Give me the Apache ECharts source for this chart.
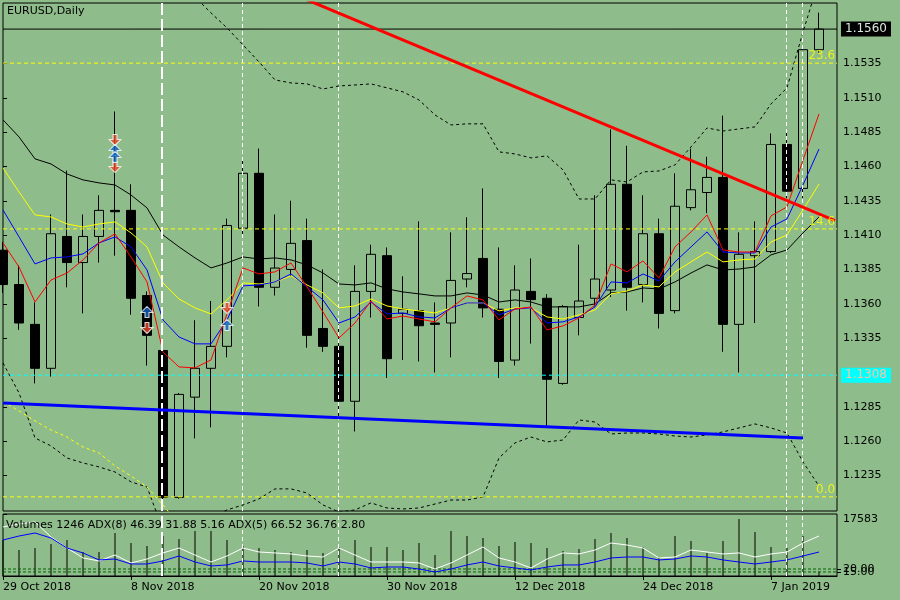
<!DOCTYPE html>
<html><head><meta charset="utf-8">
<script src="https://cdn.jsdelivr.net/npm/echarts@6/dist/echarts.min.js"></script>
<style>html,body{margin:0;padding:0;background:#8FBC8B;}#c{width:900px;height:600px;}</style>
</head><body><div id="c"></div>
<script>
// ---------- data ----------
const dates = ['29 Oct 2018','30 Oct 2018','31 Oct 2018','1 Nov 2018','2 Nov 2018','5 Nov 2018','6 Nov 2018','7 Nov 2018','8 Nov 2018','9 Nov 2018',
 '12 Nov 2018','13 Nov 2018','14 Nov 2018','15 Nov 2018','16 Nov 2018','19 Nov 2018','20 Nov 2018','21 Nov 2018','22 Nov 2018','23 Nov 2018',
 '26 Nov 2018','27 Nov 2018','28 Nov 2018','29 Nov 2018','30 Nov 2018','3 Dec 2018','4 Dec 2018','5 Dec 2018','6 Dec 2018','7 Dec 2018',
 '10 Dec 2018','11 Dec 2018','12 Dec 2018','13 Dec 2018','14 Dec 2018','17 Dec 2018','18 Dec 2018','19 Dec 2018','20 Dec 2018','21 Dec 2018',
 '24 Dec 2018','26 Dec 2018','27 Dec 2018','28 Dec 2018','31 Dec 2018','2 Jan 2019','3 Jan 2019','4 Jan 2019','7 Jan 2019','8 Jan 2019',
 '9 Jan 2019','10 Jan 2019'];
const tickBars = [0, 8, 16, 24, 32, 40, 48];
const priceTicks = [1.1535, 1.1510, 1.1485, 1.1460, 1.1435, 1.1410, 1.1385, 1.1360, 1.1335, 1.1285, 1.1260, 1.1235];
const volumeTicks = [17583];

const opens  = [1.1399,1.1374,1.1345,1.1313,1.1409,1.1390,1.1409,1.1428,1.1428,1.1366,1.1326,1.1219,1.1292,1.1313,1.1329,1.1415,1.1455,1.1372,1.1385,1.1406,
                1.1342,1.1329,1.1289,1.1369,1.1395,1.1353,1.1355,1.1346,1.1346,1.1378,1.1393,1.1356,1.1319,1.1369,1.1364,1.1302,1.1350,1.1364,1.1370,1.1447,
                1.1374,1.1411,1.1355,1.1430,1.1441,1.1452,1.1345,1.1395,1.1398,1.1476,1.1444,1.1545];
const highs  = [1.1405,1.1388,1.1361,1.1425,1.1457,1.1425,1.1439,1.1500,1.1447,1.1369,1.1331,1.1295,1.1348,1.1362,1.1422,1.1465,1.1473,1.1425,1.1435,1.1422,
                1.1385,1.1345,1.1388,1.1403,1.1401,1.1380,1.1420,1.1361,1.1412,1.1423,1.1444,1.1401,1.1388,1.1393,1.1367,1.1359,1.1403,1.1439,1.1487,1.1475,
                1.1439,1.1422,1.1455,1.1473,1.1467,1.1497,1.1412,1.1420,1.1484,1.1486,1.1547,1.1572];
const lows   = [1.1368,1.1341,1.1302,1.1307,1.1372,1.1353,1.1390,1.1395,1.1352,1.1315,1.1216,1.1218,1.1262,1.1270,1.1321,1.1410,1.1358,1.1366,1.1380,1.1328,
                1.1325,1.1278,1.1267,1.1350,1.1306,1.1319,1.1318,1.1310,1.1321,1.1372,1.1350,1.1306,1.1315,1.1331,1.1270,1.1301,1.1337,1.1358,1.1365,1.1355,
                1.1361,1.1342,1.1353,1.1428,1.1426,1.1325,1.1310,1.1346,1.1397,1.1437,1.1437,1.1543];
const closes = [1.1374,1.1346,1.1313,1.1411,1.1390,1.1409,1.1428,1.1427,1.1364,1.1337,1.1219,1.1294,1.1313,1.1329,1.1417,1.1455,1.1372,1.1386,1.1404,1.1337,
                1.1329,1.1289,1.1369,1.1396,1.1320,1.1356,1.1344,1.1345,1.1377,1.1382,1.1357,1.1318,1.1370,1.1363,1.1305,1.1358,1.1362,1.1378,1.1447,1.1372,
                1.1411,1.1353,1.1431,1.1443,1.1452,1.1345,1.1396,1.1398,1.1476,1.1442,1.1545,1.1560];

const maRed    = [1.14043,1.13868,1.13613,1.13773,1.13824,1.13919,1.14043,1.14109,1.13941,1.13759,1.13249,1.13140,1.13133,1.13191,1.13526,1.13861,1.13817,1.13832,1.13897,1.13723,
                  1.13540,1.13351,1.13460,1.13620,1.13489,1.13511,1.13489,1.13468,1.13570,1.13657,1.13628,1.13482,1.13562,1.13577,1.13409,1.13439,1.13497,1.13591,1.13890,1.13832,
                  1.13912,1.13788,1.14014,1.14123,1.14247,1.13992,1.13977,1.13977,1.14240,1.14305,1.14647,1.14982];
const maBlue   = [1.14283,1.14087,1.13890,1.13934,1.13941,1.13963,1.14043,1.14087,1.14014,1.13846,1.13482,1.13358,1.13308,1.13308,1.13482,1.13730,1.13737,1.13759,1.13817,1.13723,
                  1.13628,1.13460,1.13504,1.13613,1.13526,1.13533,1.13504,1.13497,1.13570,1.13606,1.13606,1.13519,1.13562,1.13570,1.13460,1.13468,1.13504,1.13577,1.13759,1.13752,
                  1.13817,1.13766,1.13905,1.14014,1.14123,1.13977,1.13970,1.13970,1.14159,1.14218,1.14465,1.14727];
const maYellow = [1.14589,1.14414,1.14247,1.14232,1.14181,1.14159,1.14181,1.14196,1.14116,1.14014,1.13752,1.13635,1.13570,1.13526,1.13628,1.13752,1.13744,1.13759,1.13803,1.13737,
                  1.13679,1.13570,1.13584,1.13635,1.13584,1.13562,1.13548,1.13533,1.13570,1.13606,1.13606,1.13548,1.13570,1.13570,1.13504,1.13489,1.13519,1.13555,1.13672,1.13693,
                  1.13737,1.13723,1.13832,1.13905,1.13977,1.13905,1.13919,1.13926,1.14050,1.14101,1.14283,1.14472];
const maBlack  = [1.14939,1.14815,1.14655,1.14618,1.14545,1.14502,1.14480,1.14465,1.14392,1.14298,1.14101,1.14014,1.13934,1.13861,1.13897,1.13941,1.13926,1.13934,1.13919,1.13883,
                  1.13824,1.13744,1.13737,1.13752,1.13708,1.13686,1.13672,1.13657,1.13657,1.13679,1.13664,1.13613,1.13628,1.13613,1.13577,1.13577,1.13577,1.13599,1.13679,1.13686,
                  1.13715,1.13708,1.13759,1.13824,1.13883,1.13846,1.13853,1.13868,1.13956,1.13992,1.14116,1.14232];
const bandUpper = [1.1626,1.1626,1.1625,1.1624,1.1623,1.1622,1.1621,1.1619,1.1617,1.1615,1.1612,1.1600,1.15834,1.15718,1.15609,1.15485,1.15361,1.15230,1.15208,1.15201,
                   1.15164,1.15186,1.15193,1.15201,1.15172,1.15143,1.15084,1.14975,1.14902,1.14910,1.14910,1.14706,1.14691,1.14662,1.14677,1.14575,1.14363,1.14363,1.14502,1.14487,
                   1.14560,1.14567,1.14611,1.14742,1.14880,1.14858,1.14873,1.14888,1.15055,1.15172,1.15579,1.15958];
const bandLower = [1.13169,1.12951,1.12623,1.12565,1.12477,1.12441,1.12412,1.12375,1.12303,1.12266,1.11953,1.11880,1.11953,1.12040,1.12099,1.12135,1.12179,1.12252,1.12252,1.12222,
                   1.12135,1.12084,1.12099,1.12150,1.12113,1.12106,1.12113,1.12142,1.12171,1.12171,1.12193,1.12477,1.12587,1.12630,1.12594,1.12608,1.12754,1.12739,1.12652,1.12659,
                   1.12659,1.12652,1.12637,1.12630,1.12645,1.12667,1.12696,1.12725,1.12696,1.12659,1.12448,1.12273];
const envLower = [1.12886,1.12820,1.12747,1.12681,1.12630,1.12557,1.12514,1.12419,1.12346,1.12266,1.12135,1.11989];

const volumes = [10200,7374,7941,9075,10210,6806,6806,12195,9359,8508,11344,10493,12762,12762,10210,8508,7941,7374,6806,7374,
                 6523,8224,10210,8224,8224,7374,9359,5956,12762,11344,10777,8508,9642,9359,7941,7090,7657,10493,12195,10777,
                 8224,5388,11344,9926,6523,9926,16165,12478,8224,7941,11344,1246];
const adx5  = [77.9,81.6,84.2,65.3,51.4,38.9,35.1,42.6,32.6,37.6,45.2,51.4,42.6,33.8,41.4,51.4,46.4,45.2,43.9,41.4,
               40.1,51.4,42.6,33.8,33.8,33.8,32.6,25.0,32.6,42.6,52.7,38.9,33.8,26.3,37.6,45.2,43.9,48.9,57.7,55.2,
               51.4,38.9,40.1,48.9,46.4,43.9,45.2,40.1,43.9,46.4,57.7,66.52];
const adx8  = [61.5,66.5,70.3,64.0,51.4,45.2,36.4,37.6,31.3,31.3,35.1,41.4,33.8,28.8,30.1,35.1,33.8,33.8,33.8,32.6,
               28.8,33.8,31.3,26.3,27.5,27.5,25.0,21.3,25.0,30.1,33.8,28.8,26.3,23.8,27.5,30.1,30.1,33.8,38.9,40.1,
               40.1,36.4,37.6,41.4,40.1,36.4,33.8,31.3,33.8,36.4,41.4,46.39];
const adxLevels = [25.0, 21.3];
const adxLevelLabels = ['20.00', '15.00'];

const redTrend  = [[19, 1.15813], [52, 1.14206]];
const blueTrend = [[0, 1.12878], [50, 1.12623]];
const fibNames  = ['23.6', '14.6', '0.0'];
const fibPrices = [1.15352, 1.14145, 1.12194];
const bidPrice  = 1.1560;
const cyanPrice = 1.1308;
const vLineBars = [10, 15, 21, 49, 50];
const arrowsDown = [[7, 1.14793], [7, 1.14596], [9, 1.13424], [14, 1.13569]];
const arrowsUp   = [[7, 1.14720], [7, 1.14669], [9, 1.13540], [14, 1.13445]];
const infoText = 'Volumes 1246 ADX(8) 46.39 31.88 5.16 ADX(5) 66.52 36.76 2.80';

// ---------- chart ----------
const FONT = 'DejaVu Sans';
const BG = '#8FBC8B';
const X_MIN = 0, X_MAX = 52.125;
const Y_MIN = 1.12091, Y_MAX = 1.15790;
const ADX_MIN = 16.2, ADX_MAX = 94.2;
const pair = arr => arr.map((v, i) => [i, v]);
const hSpan = v => [[X_MIN, v], [X_MAX, v]];
const downArrow = 'path://M4,0 L8,0 L8,5 L12,5 L6,11 L0,5 L4,5 Z';
const upArrow = 'path://M6,0 L12,6 L8,6 L8,11 L4,11 L4,6 L0,6 Z';

const chart = echarts.init(document.getElementById('c'), null, {renderer: 'canvas'});

function vLines() {
  return {
    silent: true, symbol: 'none', label: {show: false},
    data: vLineBars.map((b, i) => ({
      xAxis: b - 0.06,
      lineStyle: i === 0 ? {color: '#fff', width: 2, type: [12, 4]} : {color: '#fff', width: 1, type: [4, 3]}
    }))
  };
}

function priceTagAxis(value, bg, fg) {
  return {type: 'value', gridIndex: 0, position: 'right', min: Y_MIN, max: Y_MAX,
    axisLine: {show: false}, axisTick: {show: false}, splitLine: {show: false},
    axisLabel: {show: true, customValues: [value], formatter: v => v.toFixed(4), margin: 4, color: fg,
      backgroundColor: bg, padding: [2, 4, 1, 4], fontSize: 12, fontFamily: FONT}};
}

function levelAxis(i) {
  return {type: 'value', gridIndex: 1, position: 'right', min: ADX_MIN, max: ADX_MAX,
    axisLine: {show: false}, splitLine: {show: false},
    axisTick: {show: true, customValues: [adxLevels[i]], length: 4, lineStyle: {color: '#000'}},
    axisLabel: {show: true, customValues: [adxLevels[i]], margin: 6, color: '#000', fontSize: 11, fontFamily: FONT,
                formatter: () => adxLevelLabels[i]}};
}

const series = [
  {type: 'candlestick', xAxisIndex: 0, yAxisIndex: 0, barWidth: 10, z: 2,
   encode: {x: 0, y: [1, 2, 3, 4]},
   data: dates.map((d, i) => [i, opens[i], closes[i], lows[i], highs[i]]),
   itemStyle: {color: BG, color0: '#000', borderColor: '#000', borderColor0: '#000', borderWidth: 1},
   markLine: vLines()
  },
  {type: 'line', name: 'bandUpper', data: pair(bandUpper), symbol: 'none', z: 3, lineStyle: {color: '#000', width: 1, type: [3, 3]}},
  {type: 'line', name: 'bandLower', data: pair(bandLower), symbol: 'none', z: 3, lineStyle: {color: '#000', width: 1, type: [3, 3]}},
  {type: 'line', name: 'envLower', data: pair(envLower), symbol: 'none', z: 3, lineStyle: {color: '#FFFF00', width: 1, type: [3, 3]}},
  {type: 'line', name: 'maBlack', data: pair(maBlack), symbol: 'none', z: 4, lineStyle: {color: '#000', width: 1}},
  {type: 'line', name: 'maYellow', data: pair(maYellow), symbol: 'none', z: 4, lineStyle: {color: '#FFFF00', width: 1}},
  {type: 'line', name: 'maBlue', data: pair(maBlue), symbol: 'none', z: 4, lineStyle: {color: '#0000FF', width: 1}},
  {type: 'line', name: 'maRed', data: pair(maRed), symbol: 'none', z: 4, lineStyle: {color: '#FF0000', width: 1}},
  {type: 'line', name: 'blueTrend', data: blueTrend, symbol: 'none', z: 5, lineStyle: {color: '#0000FF', width: 3}},
  {type: 'line', name: 'redTrend', data: redTrend, symbol: 'none', z: 5, lineStyle: {color: '#FF0000', width: 3}},
  {type: 'line', name: 'bid', data: hSpan(bidPrice), symbol: 'none', z: 3, lineStyle: {color: '#000', width: 1}},
  {type: 'line', name: 'hline', data: hSpan(cyanPrice), symbol: 'none', z: 3, lineStyle: {color: '#00FFFF', width: 1, type: [4, 3]}},
  {type: 'scatter', name: 'sellArrows', data: arrowsDown, symbol: downArrow, symbolSize: [12, 11], z: 6,
   itemStyle: {color: '#E8472A', borderColor: '#fff', borderWidth: 1}},
  {type: 'scatter', name: 'buyArrows', data: arrowsUp, symbol: upArrow, symbolSize: [12, 11], z: 6,
   itemStyle: {color: '#1464C0', borderColor: '#fff', borderWidth: 1}},
  {type: 'scatter', name: 'fibLabels', data: fibPrices.map((p, i) => [X_MAX - 0.05, p, fibNames[i]]), symbolSize: 0, z: 6, silent: true,
   label: {show: true, position: 'left', distance: 1, offset: [0, -7], formatter: p => p.value[2], color: '#FFFF00', fontSize: 12, fontFamily: FONT}},
  // lower panel
  {type: 'bar', name: 'Volumes', xAxisIndex: 1, yAxisIndex: 1, data: pair(volumes), barWidth: 1, z: 2,
   itemStyle: {color: '#000'}, markLine: vLines()},
  {type: 'line', name: 'ADX(5)', xAxisIndex: 1, yAxisIndex: 2, data: pair(adx5), symbol: 'none', z: 4, lineStyle: {color: '#FFFFFF', width: 1}},
  {type: 'line', name: 'ADX(8)', xAxisIndex: 1, yAxisIndex: 2, data: pair(adx8), symbol: 'none', z: 4, lineStyle: {color: '#0000FF', width: 1}}
];
fibPrices.forEach((p, i) => series.push({type: 'line', name: 'fib ' + fibNames[i], data: hSpan(p), symbol: 'none', z: 3,
  lineStyle: {color: '#FFFF00', width: 1, type: [4, 3]}}));
adxLevels.forEach((v, i) => series.push({type: 'line', name: 'level ' + adxLevelLabels[i], xAxisIndex: 1, yAxisIndex: 2, data: hSpan(v),
  symbol: 'none', z: 3, lineStyle: {color: '#006400', width: 1, type: [3, 2]}}));

const option = {
  backgroundColor: BG,
  animation: false,
  textStyle: {fontFamily: FONT},
  title: [
    {text: 'EURUSD,Daily', left: 7, top: 6, padding: 0, textStyle: {fontFamily: FONT, fontSize: 11, fontWeight: 'normal', color: '#000'}},
    {text: infoText, left: 6, top: 520, padding: 0, textStyle: {fontFamily: FONT, fontSize: 11, fontWeight: 'normal', color: '#000'}}
  ],
  grid: [
    {left: 3, top: 3, width: 834, height: 508, show: true, borderColor: '#000', borderWidth: 1, backgroundColor: 'transparent'},
    {left: 3, top: 514, width: 834, height: 62, show: true, borderColor: '#000', borderWidth: 1, backgroundColor: 'transparent'}
  ],
  xAxis: [
    {type: 'value', gridIndex: 0, min: X_MIN, max: X_MAX, axisLine: {show: false}, axisTick: {show: false},
     axisLabel: {show: false}, splitLine: {show: false}},
    {type: 'value', gridIndex: 1, min: X_MIN, max: X_MAX, axisLine: {show: true, lineStyle: {color: '#000'}},
     axisTick: {show: true, customValues: tickBars, length: 4, lineStyle: {color: '#000'}},
     axisLabel: {show: true, customValues: tickBars, formatter: v => dates[Math.round(v)] || '', align: 'left',
                 margin: 6, color: '#000', fontSize: 11, fontFamily: FONT},
     splitLine: {show: false}}
  ],
  yAxis: [
    {type: 'value', gridIndex: 0, position: 'right', min: Y_MIN, max: Y_MAX,
     axisLine: {show: false},
     axisTick: {show: true, customValues: priceTicks, length: 4, lineStyle: {color: '#000'}},
     axisLabel: {show: true, customValues: priceTicks, formatter: v => v.toFixed(4), margin: 6, color: '#000', fontSize: 11, fontFamily: FONT},
     splitLine: {show: false}},
    {type: 'value', gridIndex: 1, position: 'right', min: 0, max: 17583,
     axisLine: {show: false},
     axisTick: {show: true, customValues: volumeTicks, length: 4, lineStyle: {color: '#000'}},
     axisLabel: {show: true, customValues: volumeTicks, formatter: v => String(v), margin: 6, color: '#000', fontSize: 11,
                 fontFamily: FONT, verticalAlign: 'top'},
     splitLine: {show: false}},
    levelAxis(0),
    priceTagAxis(bidPrice, '#000', '#D8E8D8'),
    priceTagAxis(cyanPrice, '#00FFFF', '#F2C9A0'),
    levelAxis(1)
  ],
  series: series
};
chart.setOption(option);
</script>
</body></html>
